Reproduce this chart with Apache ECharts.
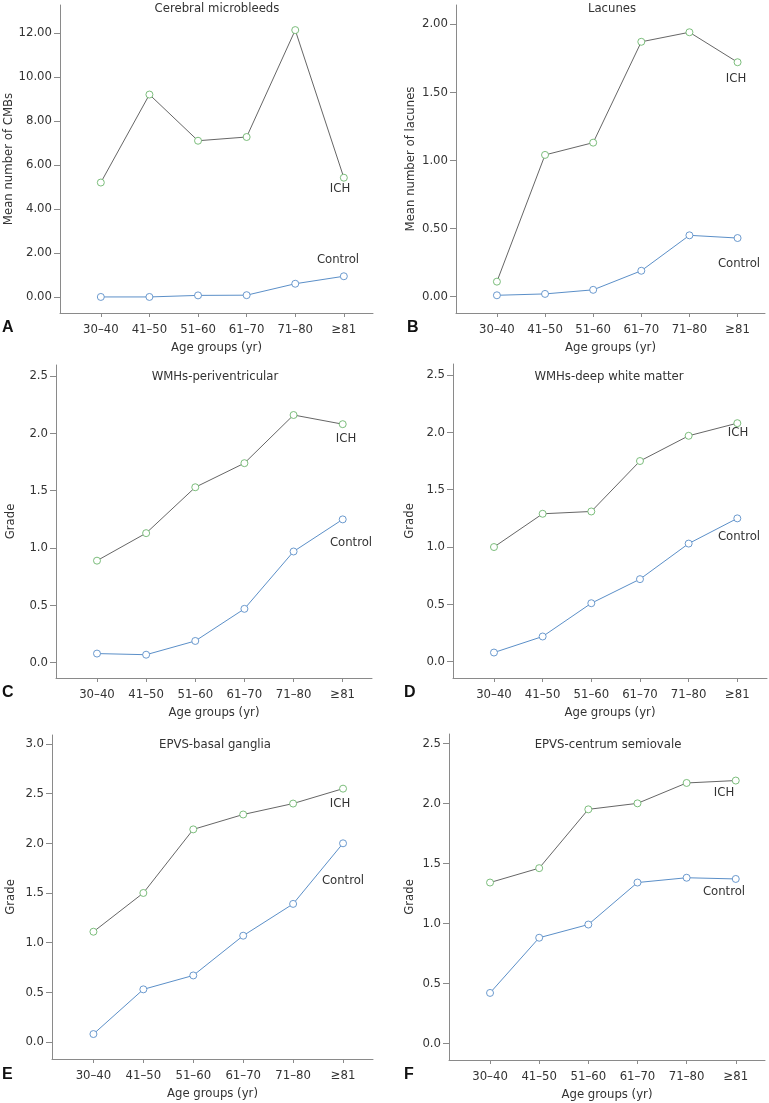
<!DOCTYPE html>
<html>
<head>
<meta charset="utf-8">
<script src="https://cdn.jsdelivr.net/npm/echarts@6/dist/echarts.min.js"></script>
<style>
html,body{margin:0;padding:0;background:#fff;}
#c{width:769px;height:1103px;}
</style>
</head>
<body>
<div id="c"></div>
<script>
// ---- data ----
const categories = ['30\u201340', '41\u201350', '51\u201360', '61\u201370', '71\u201380', '\u226581'];
const panelTitles = ['Cerebral microbleeds', 'Lacunes', 'WMHs-periventricular', 'WMHs-deep white matter', 'EPVS-basal ganglia', 'EPVS-centrum semiovale'];
const panelLetters = ['A', 'B', 'C', 'D', 'E', 'F'];
const yAxisNames = ['Mean number of CMBs', 'Mean number of lacunes', 'Grade', 'Grade', 'Grade', 'Grade'];
const xAxisName = 'Age groups (yr)';

const ichA = [5.2, 9.2, 7.1, 7.27, 12.13, 5.42];
const ctlA = [0.0, 0.0, 0.07, 0.08, 0.6, 0.94];
const ichB = [0.11, 1.04, 1.13, 1.87, 1.94, 1.72];
const ctlB = [0.01, 0.02, 0.05, 0.19, 0.45, 0.43];
const ichC = [0.89, 1.13, 1.53, 1.74, 2.16, 2.08];
const ctlC = [0.08, 0.07, 0.19, 0.47, 0.97, 1.25];
const ichD = [1.0, 1.29, 1.31, 1.75, 1.97, 2.08];
const ctlD = [0.08, 0.22, 0.51, 0.72, 1.03, 1.25];
const ichE = [1.11, 1.5, 2.14, 2.29, 2.4, 2.55];
const ctlE = [0.08, 0.53, 0.67, 1.07, 1.39, 2.0];
const ichF = [1.34, 1.46, 1.95, 2.0, 2.17, 2.19];
const ctlF = [0.42, 0.88, 0.99, 1.34, 1.38, 1.37];

const yTicksA = [0, 2, 4, 6, 8, 10, 12];
const yTicksB = [0, 0.5, 1.0, 1.5, 2.0];
const yTicksC = [0, 0.5, 1.0, 1.5, 2.0, 2.5];
const yTicksD = [0, 0.5, 1.0, 1.5, 2.0, 2.5];
const yTicksE = [0, 0.5, 1.0, 1.5, 2.0, 2.5, 3.0];
const yTicksF = [0, 0.5, 1.0, 1.5, 2.0, 2.5];

const seriesLabels = ['ICH', 'Control'];

// ---- layout ----
const FONT = "'DejaVu Sans Condensed', 'Liberation Sans Narrow', 'Liberation Sans', sans-serif";
const TXT = '#333';
const AXIS = '#8a8a8a';
const ICH_LINE = '#666666';
const ICH_MARK = '#6db56d';
const CTL = '#5b8fc8';

const panels = [
  {ich: ichA, ctl: ctlA, ticks: yTicksA, dec: 2, grid: {left: 60, top: 5, width: 313, height: 308}, x: [-0.84, 5.6], y: [-0.73, 13.27], nameGap: 43,
   ichLbl: [340, 189], ctlLbl: [338, 260], title: [217, 9], letter: [2, 328]},
  {ich: ichB, ctl: ctlB, ticks: yTicksB, dec: 2, grid: {left: 456, top: 5, width: 309, height: 308}, x: [-0.85, 5.57], y: [-0.12, 2.14], nameGap: 39,
   ichLbl: [736, 79], ctlLbl: [739, 264], title: [612, 9], letter: [407, 328]},
  {ich: ichC, ctl: ctlC, ticks: yTicksC, dec: 1, grid: {left: 56, top: 365, width: 316, height: 313}, x: [-0.834, 5.596], y: [-0.133, 2.596], nameGap: 39,
   ichLbl: [346, 439], ctlLbl: [351, 543], title: [215, 377], letter: [2, 693]},
  {ich: ichD, ctl: ctlD, ticks: yTicksD, dec: 1, grid: {left: 453, top: 364, width: 314, height: 314}, x: [-0.842, 5.61], y: [-0.142, 2.596], nameGap: 37,
   ichLbl: [738, 433], ctlLbl: [739, 537], title: [609, 377], letter: [404, 693]},
  {ich: ichE, ctl: ctlE, ticks: yTicksE, dec: 1, grid: {left: 52, top: 735, width: 321, height: 324}, x: [-0.83, 5.6], y: [-0.171, 3.09], nameGap: 35,
   ichLbl: [340, 804], ctlLbl: [343, 881], title: [215, 745], letter: [2, 1075]},
  {ich: ichF, ctl: ctlF, ticks: yTicksF, dec: 1, grid: {left: 449, top: 734, width: 316, height: 326}, x: [-0.835, 5.595], y: [-0.139, 2.578], nameGap: 33,
   ichLbl: [724, 793], ctlLbl: [724, 892], title: [608, 745], letter: [404, 1075]}
];

const grids = [], xAxes = [], yAxes = [], series = [], titles = [], graphics = [];
const catIdx = categories.map((c, i) => i);

panels.forEach((p, k) => {
  grids.push(Object.assign({containLabel: false}, p.grid));
  xAxes.push({
    type: 'value', gridIndex: k, min: p.x[0], max: p.x[1],
    name: xAxisName, nameLocation: 'middle', nameGap: 28,
    nameTextStyle: {fontFamily: FONT, fontSize: 13, color: TXT},
    axisLine: {show: true, onZero: false, lineStyle: {color: AXIS, width: 1}},
    axisTick: {show: true, length: 4, customValues: catIdx, lineStyle: {color: AXIS}},
    axisLabel: {show: true, customValues: catIdx, margin: 10, fontFamily: FONT, fontSize: 13, color: TXT,
      formatter: v => categories[Math.round(v)]},
    splitLine: {show: false}
  });
  yAxes.push({
    type: 'value', gridIndex: k, min: p.y[0], max: p.y[1],
    name: yAxisNames[k], nameLocation: 'middle', nameGap: p.nameGap, nameRotate: 90,
    nameTextStyle: {fontFamily: FONT, fontSize: 13, color: TXT},
    axisLine: {show: true, onZero: false, lineStyle: {color: AXIS, width: 1}},
    axisTick: {show: true, length: 6, customValues: p.ticks, lineStyle: {color: AXIS}},
    axisLabel: {show: true, customValues: p.ticks, margin: 8, fontFamily: FONT, fontSize: 13, color: TXT,
      formatter: v => Number(v).toFixed(p.dec)},
    splitLine: {show: false}
  });
  series.push({
    type: 'line', name: seriesLabels[0], xAxisIndex: k, yAxisIndex: k,
    data: p.ich.map((v, i) => [i, v]),
    symbol: 'circle', symbolSize: 7,
    lineStyle: {color: ICH_LINE, width: 1},
    itemStyle: {color: '#ffffff', borderColor: ICH_MARK, borderWidth: 0.9},
    emphasis: {disabled: true}, animation: false, z: 3
  });
  series.push({
    type: 'line', name: seriesLabels[1], xAxisIndex: k, yAxisIndex: k,
    data: p.ctl.map((v, i) => [i, v]),
    symbol: 'circle', symbolSize: 7,
    lineStyle: {color: CTL, width: 1},
    itemStyle: {color: '#ffffff', borderColor: CTL, borderWidth: 0.9},
    emphasis: {disabled: true}, animation: false, z: 3
  });
  titles.push({
    text: panelTitles[k], left: p.title[0], top: p.title[1], textAlign: 'center', textVerticalAlign: 'middle',
    padding: 0,
    textStyle: {fontFamily: FONT, fontSize: 13, fontWeight: 'normal', color: TXT}
  });
  graphics.push({type: 'text', x: p.ichLbl[0], y: p.ichLbl[1],
    style: {text: seriesLabels[0], font: "13px " + FONT, fill: TXT, align: 'center', verticalAlign: 'middle'}});
  graphics.push({type: 'text', x: p.ctlLbl[0], y: p.ctlLbl[1],
    style: {text: seriesLabels[1], font: "13px " + FONT, fill: TXT, align: 'center', verticalAlign: 'middle'}});
  graphics.push({type: 'text', x: p.letter[0], y: p.letter[1],
    style: {text: panelLetters[k], font: "bold 16px 'Liberation Sans', Arial, sans-serif", fill: '#111', align: 'left', verticalAlign: 'middle'}});
});

const chart = echarts.init(document.getElementById('c'), null, {renderer: 'canvas'});
chart.setOption({
  backgroundColor: '#fff',
  animation: false,
  title: titles,
  grid: grids,
  xAxis: xAxes,
  yAxis: yAxes,
  series: series,
  graphic: graphics
});
</script>
</body>
</html>
